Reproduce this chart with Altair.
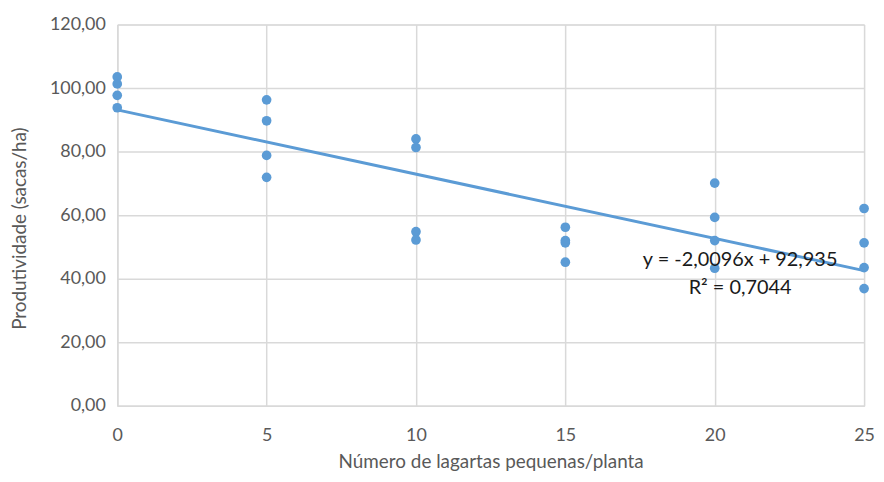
import altair as alt
import pandas as pd

larvae = [0, 0, 0, 0,
          5, 5, 5, 5,
          10, 10, 10, 10,
          15, 15, 15, 15,
          20, 20, 20, 20,
          25, 25, 25, 25]
yield_ = [103.5, 101.3, 97.7, 93.8,
          96.3, 89.7, 78.8, 71.9,
          84.0, 81.3, 54.8, 52.2,
          56.2, 52.0, 51.3, 45.2,
          70.1, 59.3, 52.0, 43.3,
          62.1, 51.3, 43.5, 36.9]

eq_labels = ["y = -2,0096x + 92,935", "R² = 0,7044"]
eq_x = [20.85, 20.85]
eq_y = [45.8, 37.1]

df = pd.DataFrame({"x": larvae, "y": yield_})
ann = pd.DataFrame({"label": eq_labels, "x": eq_x, "y": eq_y})

FONT = "Lato"
BLUE = "#5B9BD5"
GRID = "#D9D9D9"

xscale = alt.Scale(domain=[0, 25], nice=False, zero=False)
yscale = alt.Scale(domain=[0, 120], nice=False)

xenc = alt.X("x:Q", scale=xscale,
             axis=alt.Axis(title="Número de lagartas pequenas/planta",
                           values=[0, 5, 10, 15, 20, 25], format="d",
                           grid=True, gridColor=GRID, gridWidth=1.5,
                           domainColor=GRID, domainWidth=1.5, ticks=False,
                           labelFlush=False,
                           labelPadding=21, titlePadding=8,
                           labelFont=FONT, titleFont=FONT,
                           labelFontSize=18, titleFontSize=19,
                           labelColor="#595959", titleColor="#595959",
                           titleFontWeight="normal"))
yenc = alt.Y("y:Q", scale=yscale,
             axis=alt.Axis(title="Produtividade (sacas/ha)",
                           values=[0, 20, 40, 60, 80, 100, 120],
                           labelExpr="replace(format(datum.value, '.2f'), '.', ',')",
                           grid=True, gridColor=GRID, gridWidth=1.5,
                           domainColor=GRID, domainWidth=1.5, ticks=False,
                           labelPadding=12, titlePadding=20, titleY=205,
                           labelFont=FONT, titleFont=FONT,
                           labelFontSize=18, titleFontSize=19,
                           labelColor="#595959", titleColor="#595959",
                           titleFontWeight="normal"))

points = alt.Chart(df).mark_circle(size=95, opacity=1, color=BLUE).encode(x=xenc, y=yenc)

trend = alt.Chart(df).transform_regression("x", "y", extent=[0, 25]).mark_line(
    color=BLUE, strokeWidth=3).encode(x=alt.X("x:Q", scale=xscale), y=alt.Y("y:Q", scale=yscale))

text = alt.Chart(ann).mark_text(font=FONT, fontSize=20, color="#1a1a1a", align="center",
                                baseline="middle").encode(
    x=alt.X("x:Q", scale=xscale), y=alt.Y("y:Q", scale=yscale), text="label:N")

chart = alt.layer(points, trend, text).properties(
    width=752, height=384,
    autosize=alt.AutoSizeParams(type="none"),
    padding={"left": 110, "top": 15, "right": 12, "bottom": 67},
).configure_view(stroke=None).configure(background="white")

chart.save("out.html", embed_options={"renderer": "svg", "actions": False})
